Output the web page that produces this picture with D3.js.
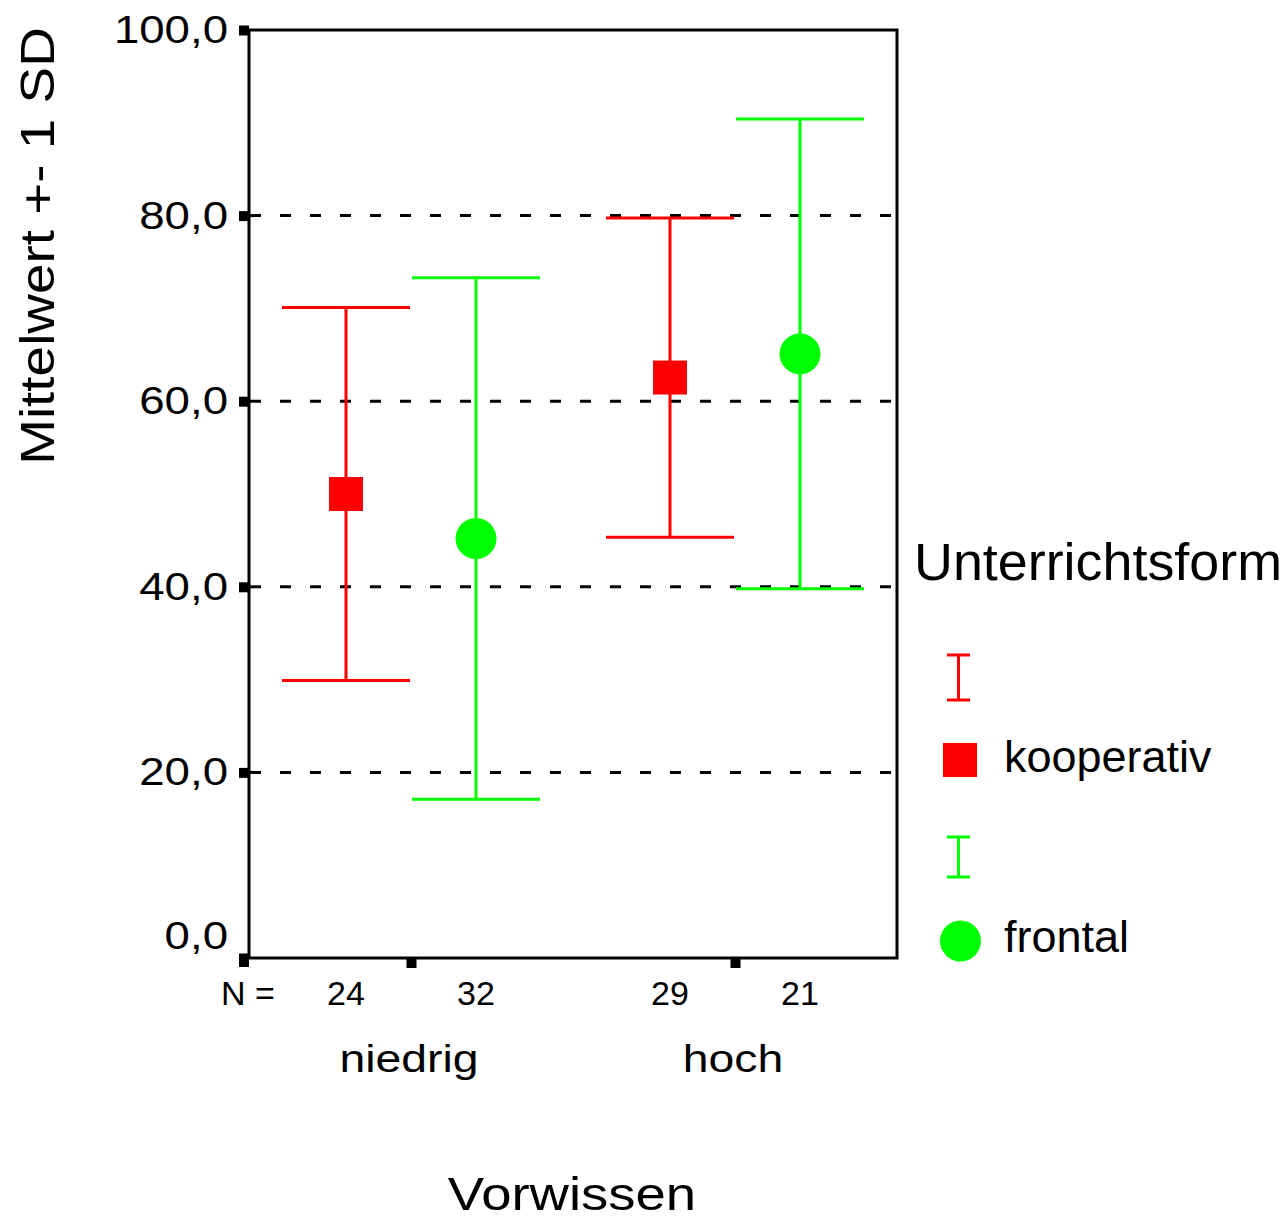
<!DOCTYPE html>
<html><head><meta charset="utf-8">
<script src="https://cdn.jsdelivr.net/npm/d3@7"></script>
<style>body{margin:0;background:#fff}svg{display:block}text{font-family:"Liberation Sans",Arial,sans-serif;fill:#000}</style>
</head><body>
<script>
const groups = ["niedrig", "hoch"];
const series = ["kooperativ", "frontal"];
const colors = ["#ff0000", "#00ff00"];
const meanKoop = [50.0, 62.55];
const sdKoop = [20.1, 17.2];
const meanFront = [45.2, 65.1];
const sdFront = [28.1, 25.3];
const nKoop = [24, 29];
const nFront = [32, 21];
const yTicks = [0, 20, 40, 60, 80, 100];
const gridTicks = [20, 40, 60, 80];

const data = [];
groups.forEach((g, i) => {
  data.push({group: g, series: "kooperativ", mean: meanKoop[i], sd: sdKoop[i], n: nKoop[i]});
  data.push({group: g, series: "frontal", mean: meanFront[i], sd: sdFront[i], n: nFront[i]});
});

const W = 1288, H = 1224;
const L = 249, R = 897, T = 30, B = 958;
const svg = d3.select("body").append("svg").attr("width", W).attr("height", H);

const y = d3.scaleLinear().domain([0, 100]).range([B, T]);
const x = d3.scalePoint().domain(groups).range([L, R]).padding(0.5);
const xs = d3.scalePoint().domain(series).range([-65, 65]);
const col = d3.scaleOrdinal().domain(series).range(colors);
const fmt = v => d3.format(".1f")(v).replace(".", ",");

function stext(sel, x0, y0, str, size, sx, anchor, rot) {
  const g = sel.append("g").attr("transform", `translate(${x0},${y0}) ${rot ? "rotate(" + rot + ")" : ""} scale(${sx},1)`);
  g.append("text").attr("font-size", size).attr("text-anchor", anchor || "start").text(str);
  return g;
}

// gridlines
svg.append("g").selectAll("line").data(gridTicks).join("line")
  .attr("x1", L + 1).attr("x2", R).attr("y1", d => y(d)).attr("y2", d => y(d))
  .attr("stroke", "#000").attr("stroke-width", 3).attr("stroke-dasharray", "11,19");

// frame
svg.append("rect").attr("x", L).attr("y", T).attr("width", R - L).attr("height", B - T)
  .attr("fill", "none").attr("stroke", "#000").attr("stroke-width", 3);

// y axis via d3 axis, restyled
const yAxis = svg.append("g").attr("transform", `translate(${L},0)`)
  .call(d3.axisLeft(y).tickValues(yTicks).tickSize(0).tickPadding(20).tickFormat(fmt));
yAxis.select(".domain").remove();
yAxis.selectAll(".tick text").remove();
yAxis.selectAll(".tick").append("rect").attr("x", -10).attr("y", -5).attr("width", 10).attr("height", 10).attr("fill", "#000");
yTicks.forEach(v => {
  const off = v === 0 ? -9 : 13;
  stext(svg, 228, y(v) + off, fmt(v), 38, 1.2, "end");
});

// x ticks (group boundaries)
const xAxis = svg.append("g").attr("transform", `translate(0,${B})`)
  .call(d3.axisBottom(x).tickSize(0).tickFormat(""));
xAxis.select(".domain").remove();
xAxis.selectAll(".tick").append("rect").attr("x", -5).attr("y", 0).attr("width", 10).attr("height", 10).attr("fill", "#000");
svg.append("rect").attr("x", L - 10).attr("y", B - 1).attr("width", 10).attr("height", 10).attr("fill", "#000");

// error bars
const cap = 64;
const eb = svg.append("g").selectAll("g").data(data).join("g")
  .attr("transform", d => `translate(${x(d.group) + xs(d.series)},0)`)
  .attr("stroke", d => col(d.series)).attr("stroke-width", 3);
eb.append("line").attr("y1", d => y(d.mean + d.sd)).attr("y2", d => y(d.mean - d.sd));
eb.append("line").attr("x1", -cap).attr("x2", cap).attr("y1", d => y(d.mean + d.sd)).attr("y2", d => y(d.mean + d.sd));
eb.append("line").attr("x1", -cap).attr("x2", cap).attr("y1", d => y(d.mean - d.sd)).attr("y2", d => y(d.mean - d.sd));

// markers
const mk = svg.append("g");
data.forEach(d => {
  const cx = x(d.group) + xs(d.series), cy = y(d.mean);
  if (d.series === "kooperativ") {
    mk.append("rect").attr("x", cx - 17).attr("y", cy - 17).attr("width", 34).attr("height", 34).attr("fill", col(d.series));
  } else {
    mk.append("circle").attr("cx", cx).attr("cy", cy).attr("r", 20.5).attr("fill", col(d.series));
  }
  svg.append("text").attr("x", cx).attr("y", 1005).attr("font-size", 34).attr("text-anchor", "middle").text(d.n);
});
svg.append("text").attr("x", 221).attr("y", 1005).attr("font-size", 34).text("N =");

// group labels
groups.forEach(g => stext(svg, x(g) - 2, 1072, g, 38, 1.22, "middle"));

// axis titles
stext(svg, 572, 1210, "Vorwissen", 47, 1.16, "middle");
stext(svg, 54, 246, "Mittelwert +- 1 SD", 49, 1.12, "middle", -90);

// legend
svg.append("text").attr("x", 914).attr("y", 580).attr("font-size", 51)
  .attr("textLength", 368).attr("lengthAdjust", "spacingAndGlyphs").text("Unterrichtsform");
const lg = svg.append("g");
const legY = [{bar: [655, 700], mark: 760, text: 772}, {bar: [837, 877], mark: 941, text: 952}];
series.forEach((s, i) => {
  const c = col(s), ly = legY[i];
  const g = lg.append("g").attr("stroke", c).attr("stroke-width", 3);
  g.append("line").attr("x1", 958.5).attr("x2", 958.5).attr("y1", ly.bar[0]).attr("y2", ly.bar[1]);
  g.append("line").attr("x1", 947).attr("x2", 970).attr("y1", ly.bar[0]).attr("y2", ly.bar[0]);
  g.append("line").attr("x1", 947).attr("x2", 970).attr("y1", ly.bar[1]).attr("y2", ly.bar[1]);
  if (s === "kooperativ") lg.append("rect").attr("x", 943).attr("y", ly.mark - 17).attr("width", 34).attr("height", 34).attr("fill", c);
  else lg.append("circle").attr("cx", 960.5).attr("cy", ly.mark).attr("r", 20.5).attr("fill", c);
  lg.append("text").attr("x", 1004).attr("y", ly.text).attr("font-size", 45).text(s);
});
</script>
</body></html>
